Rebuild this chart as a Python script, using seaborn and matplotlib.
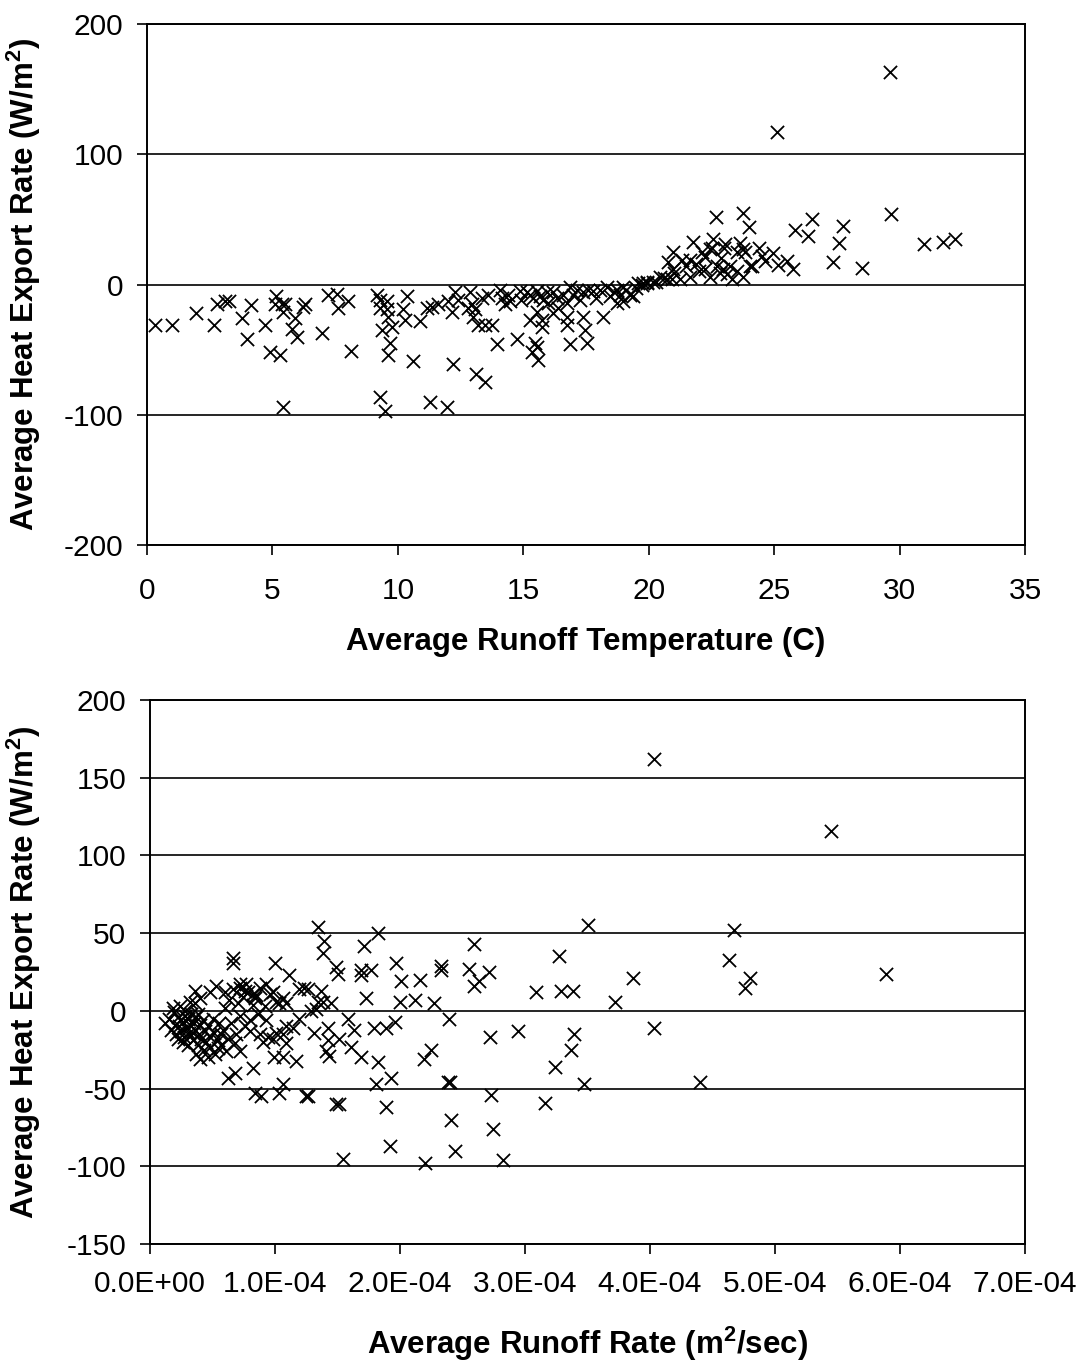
import numpy as np
import pandas as pd
import seaborn as sns
import matplotlib
matplotlib.use("Agg")
import matplotlib.pyplot as plt
from matplotlib.ticker import FuncFormatter, MultipleLocator

# ---------------- data: top chart (runoff temperature vs heat export) -------------
runoff_temp = [
    0.32, 1.00, 1.95, 2.67, 2.79, 3.11, 3.27, 3.79, 3.99, 4.15,
    4.70, 4.90, 5.30, 5.14, 5.10, 5.38, 5.50, 5.42, 5.90, 5.78,
    5.98, 6.22, 6.30, 6.97, 7.21, 7.57, 7.61, 8.01, 8.13, 9.17,
    9.29, 9.57, 9.29, 9.57, 9.61, 9.37, 9.76, 9.69, 9.61, 9.29,
    9.49, 5.42, 10.36, 10.20, 10.28, 10.88, 10.60, 11.16, 11.36, 11.60,
    12.00, 12.28, 12.16, 12.40, 11.28, 11.96, 12.20, 12.87, 12.95, 12.79,
    13.07, 12.99, 13.19, 13.47, 13.75, 13.35, 13.59, 13.11, 13.47, 13.95,
    14.07, 14.15, 14.27, 14.47, 14.75, 14.87, 15.15, 15.27, 15.38, 15.54,
    15.66, 15.78, 15.94, 15.27, 15.54, 15.74, 15.74, 15.46, 15.54, 15.34,
    15.58, 16.18, 16.34, 16.58, 16.74, 16.86, 17.14, 17.26, 17.38, 17.58,
    16.74, 16.74, 17.38, 17.46, 16.86, 17.54, 17.78, 18.05, 18.33, 18.45,
    18.73, 18.85, 18.97, 19.25, 18.17, 18.73, 18.97, 19.37, 19.57, 19.77,
    19.93, 29.61, 25.11, 22.68, 23.75, 23.99, 25.83, 26.50, 26.35, 27.74,
    27.58, 27.34, 28.50, 29.65, 30.97, 31.73, 32.20, 21.76, 22.56, 22.52,
    23.04, 23.63, 23.75, 23.50, 24.39, 24.95, 24.63, 25.15, 25.51, 25.75,
    20.96, 21.32, 21.64, 20.77, 20.96, 21.64, 21.24, 22.12, 22.24, 22.44,
    22.24, 22.44, 22.72, 22.96, 23.24, 23.12, 22.84, 23.32, 23.75, 24.03,
    23.83, 24.11, 20.45, 20.73, 20.17, 19.93, 19.73, 20.92, 21.00, 21.50,
    16.00, 16.40, 17.00, 17.90, 18.60, 19.10, 19.50, 14.40, 14.90, 16.20,
    22.00, 22.90, 23.50, 24.50, 20.30, 20.60, 21.90, 23.00,
]
heat_vs_temp = [
    -31, -31, -22, -31, -15, -13, -13, -26, -42, -16,
    -31, -52, -54, -9, -15, -15, -15, -21, -26, -34,
    -40, -17, -15, -37, -8, -7, -18, -13, -51, -8,
    -12, -13, -18, -19, -25, -35, -33, -45, -54, -86,
    -97, -94, -9, -19, -27, -28, -59, -18, -17, -15,
    -13, -6, -21, -12, -90, -94, -61, -6, -15, -18,
    -19, -25, -31, -31, -31, -10, -8, -69, -75, -46,
    -4, -10, -15, -13, -42, -5, -6, -8, -10, -5,
    -9, -12, -6, -27, -21, -27, -33, -45, -48, -52,
    -58, -6, -10, -8, -14, -2, -4, -12, -6, -4,
    -31, -25, -25, -35, -46, -45, -5, -4, -2, -9,
    -4, -8, -2, -8, -25, -14, -13, -9, 1.5, 1.5,
    2, 163, 117, 52, 55, 44, 42, 50, 37, 45,
    32, 17, 13, 54, 31, 33, 35, 33, 35, 28,
    31, 32, 27, 25, 28, 24, 18, 15, 18, 12,
    25, 19, 19, 17, 12, 6, 4, 25, 21, 27,
    12, 6, 14, 12, 14, 8, 9, 4, 6, 14,
    25, 14, 6, 4, 2, 1.5, 0, 4, 9, 14,
    -14, -18, -8, -10, -6, -4, -3, -8, -12, -22,
    10, 20, 10, 22, 2, 5, 16, 28,
]

# ---------------- data: bottom chart (runoff rate vs heat export) -----------------
runoff_rate_e4 = [  # in units of 1e-4 m2/sec
    4.03, 5.45, 4.67, 4.63, 3.86, 3.72, 4.80, 4.76, 5.89, 4.03,
    4.40, 1.34, 1.82, 3.50, 1.39, 1.38, 1.71, 2.59, 1.97, 1.49,
    1.50, 1.69, 1.69, 1.77, 2.01, 2.16, 2.33, 2.33, 2.55, 2.71,
    2.63, 2.59, 3.27, 3.09, 3.29, 3.38, 1.73, 2.00, 2.12, 2.27,
    1.23, 1.37, 1.34, 1.45, 1.29, 1.58, 1.42, 1.63, 1.31, 1.79,
    1.89, 1.96, 2.39, 2.72, 2.94, 3.39, 3.37, 3.24, 3.47, 1.42,
    1.41, 1.43, 1.51, 1.61, 1.69, 1.82, 2.25, 2.19, 1.93, 1.81,
    2.38, 2.40, 1.25, 1.51, 1.89, 2.73, 3.16, 2.41, 2.74, 1.92,
    2.44, 1.54, 2.20, 2.82, 0.66, 0.66, 1.00, 1.11, 1.19, 1.26,
    1.38, 1.33, 1.06, 1.03, 1.09, 0.93, 0.98, 1.01, 0.82, 0.85,
    0.72, 0.77, 0.76, 0.53, 0.60, 0.48, 0.36, 0.40, 0.32, 1.19,
    1.14, 1.09, 1.06, 1.09, 1.01, 0.98, 0.93, 0.99, 1.06, 1.17,
    0.82, 0.68, 0.62, 0.37, 0.40, 0.46, 0.57, 0.69, 0.80, 0.88,
    0.54, 0.61, 0.72, 1.06, 0.84, 0.89, 1.03, 1.26, 1.49, 0.72,
    0.12, 0.15, 0.17, 0.18, 0.20, 0.21, 0.22, 0.23, 0.24, 0.25,
    0.26, 0.27, 0.28, 0.29, 0.30, 0.31, 0.32, 0.33, 0.34, 0.35,
    0.36, 0.37, 0.38, 0.39, 0.40, 0.41, 0.42, 0.43, 0.44, 0.45,
    0.46, 0.47, 0.48, 0.50, 0.51, 0.52, 0.54, 0.55, 0.57, 0.58,
    0.60, 0.62, 0.63, 0.65, 0.66, 0.68, 0.70, 0.72, 0.74, 0.76,
    0.78, 0.80, 0.82, 0.84, 0.86, 0.88, 0.90, 0.92, 0.94, 0.96,
    0.26, 0.30, 0.34, 0.22, 0.28, 0.19, 0.24, 0.32, 0.36, 0.38,
]
heat_vs_rate = [
    162, 116, 52, 33, 21, 6, 21, 15, 24, -11,
    -46, 54, 50, 55, 45, 37, 42, 43, 31, 28,
    24, 26, 23, 26, 19, 20, 29, 26, 27, 25,
    19, 16, 35, 12, 13, 13, 8, 6, 7, 5,
    15, 13, 6, 5, 0, -5, -11, -12, -14, -11,
    -11, -7, -5, -17, -13, -15, -25, -36, -47, -19,
    -26, -29, -18, -23, -30, -33, -25, -31, -43, -47,
    -46, -46, -55, -60, -62, -54, -59, -70, -76, -87,
    -90, -95, -98, -96, 34, 31, 31, 23, 14, 14,
    6, 1, 8, 5, 5, 17, 12, 6, 11, 10,
    15, 17, 13, 16, 12, 12, 13, 8, 6, -5,
    -11, -10, -15, -21, -14, -18, -6, -30, -30, -32,
    -37, -40, -43, -28, -31, -30, -15, -15, -13, -15,
    -24, -26, -26, -47, -53, -55, -53, -55, -60, 17,
    -8, -5, -12, 2, -9, -15, -4, -10, 3, -13,
    -7, -17, 0, -11, -5, -14, -9, -2, -19, -8,
    -12, -4, -22, -15, -9, -18, -6, -25, -13, -20,
    -10, -16, -23, -5, -14, -28, -19, -8, -22, -12,
    2, -18, 7, -8, 14, -21, 5, -3, 9, -10,
    12, -6, 4, 8, -2, 15, -20, 3, -17, 11,
    -20, -22, -14, -18, -3, -1, -6, -16, 5, -2,
]

top_df = pd.DataFrame({"temp": runoff_temp, "heat": heat_vs_temp})
bot_df = pd.DataFrame({"rate": np.array(runoff_rate_e4) * 1e-4, "heat": heat_vs_rate})

# ---------------- styling ----------------
sns.set_theme(style="white")
plt.rcParams["font.family"] = ["Liberation Sans", "DejaVu Sans"]
plt.rcParams["mathtext.fontset"] = "custom"
plt.rcParams["mathtext.rm"] = "Liberation Sans"
plt.rcParams["mathtext.bf"] = "Liberation Sans:bold"
plt.rcParams["axes.unicode_minus"] = False
plt.rcParams["text.color"] = "black"
plt.rcParams["axes.labelcolor"] = "black"

W, H = 1088, 1366
fig = plt.figure(figsize=(W / 100, H / 100), dpi=100)
ax1 = fig.add_axes([147 / W, 1 - 545 / H, 878 / W, 521 / H])
ax2 = fig.add_axes([150 / W, 1 - 1244 / H, 875 / W, 544 / H])

mk = dict(marker="x", color="black", s=90, linewidth=1.3, legend=False)
sns.scatterplot(data=top_df, x="temp", y="heat", ax=ax1, **mk)
sns.scatterplot(data=bot_df, x="rate", y="heat", ax=ax2, **mk)

ylab = r"Average Heat Export Rate (W/m$^\mathbf{2}$)"
LBL = 22.5
TCK = 21.5

# top axes
ax1.set_xlim(0, 35)
ax1.set_ylim(-200, 200)
ax1.xaxis.set_major_locator(MultipleLocator(5))
ax1.yaxis.set_major_locator(MultipleLocator(100))
ax1.set_xlabel("Average Runoff Temperature (C)", fontsize=LBL, fontweight="bold", color="black")
ax1.set_ylabel(ylab, fontsize=LBL, fontweight="bold", color="black")
ax1.xaxis.set_label_coords(0.5, -0.158)
ax1.yaxis.set_label_coords(-0.118, 0.5)

# bottom axes
ax2.set_xlim(0, 7e-4)
ax2.set_ylim(-150, 200)
ax2.xaxis.set_major_locator(MultipleLocator(1e-4))
ax2.yaxis.set_major_locator(MultipleLocator(50))
ax2.xaxis.set_major_formatter(FuncFormatter(lambda v, p: "{:.1E}".format(v)))
ax2.set_xlabel(r"Average Runoff Rate (m$^\mathbf{2}$/sec)", fontsize=LBL, fontweight="bold", color="black")
ax2.set_ylabel(ylab, fontsize=LBL, fontweight="bold", color="black")
ax2.xaxis.set_label_coords(0.5, -0.148)
ax2.yaxis.set_label_coords(-0.122, 0.5)

for ax, xpad in ((ax1, 16), (ax2, 12)):
    ax.set_axisbelow(True)
    ax.yaxis.grid(True, color="black", linewidth=1.2)
    ax.xaxis.grid(False)
    for sp in ax.spines.values():
        sp.set_visible(True)
        sp.set_color("black")
        sp.set_linewidth(1.4)
    ax.tick_params(axis="both", which="major", direction="out", length=7, width=1.2,
                   color="black", labelsize=TCK, labelcolor="black",
                   bottom=True, left=True, top=False, right=False)
    ax.tick_params(axis="y", pad=10)
    ax.tick_params(axis="x", pad=xpad)
    ax.set_facecolor("white")

fig.savefig("out.png", dpi=100, facecolor="white")
